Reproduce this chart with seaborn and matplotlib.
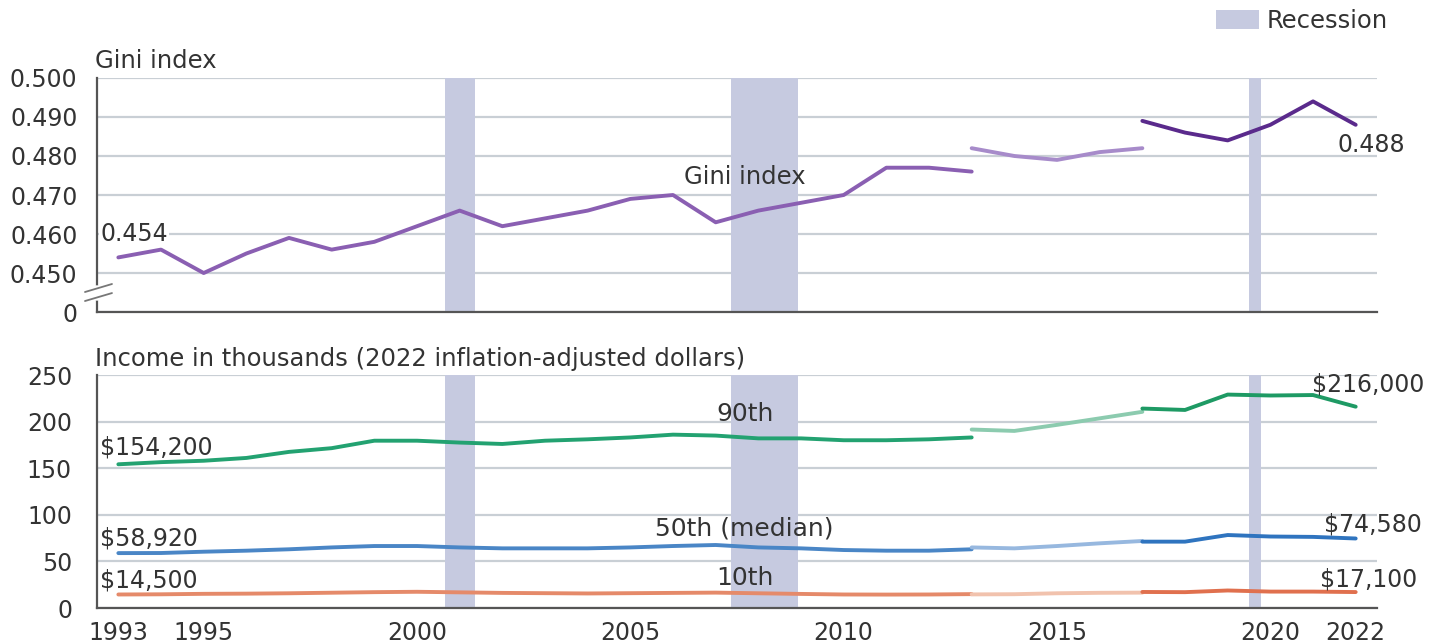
import numpy as np
import pandas as pd
import seaborn as sns
import matplotlib.pyplot as plt
from matplotlib.patches import Patch

# years for the three segments (survey redesigns in 2013 and 2017)
years_a = list(range(1993, 2014))
years_b = list(range(2013, 2018))
years_c = list(range(2017, 2023))

# Gini index
gini_a = [0.454, 0.456, 0.450, 0.455, 0.459, 0.456, 0.458, 0.462, 0.466, 0.462, 0.464,
          0.466, 0.469, 0.470, 0.463, 0.466, 0.468, 0.470, 0.477, 0.477, 0.476]
gini_b = [0.482, 0.480, 0.479, 0.481, 0.482]
gini_c = [0.489, 0.486, 0.484, 0.488, 0.494, 0.488]

# household income percentiles, thousands of 2022 dollars
p90_a = [154.2, 156.5, 158.0, 161.0, 167.5, 171.5, 179.5, 179.5, 177.5, 176.0, 179.5,
         181.0, 183.0, 186.0, 185.0, 182.0, 182.0, 180.0, 180.0, 181.0, 183.0]
p90_b = [191.5, 190.0, 196.5, 203.5, 210.5]
p90_c = [214.0, 212.5, 229.0, 228.0, 228.5, 216.0]

p50_a = [58.9, 59.0, 60.4, 61.5, 63.0, 65.0, 66.5, 66.5, 65.0, 64.0, 64.0,
         64.0, 65.0, 66.5, 67.6, 65.0, 64.0, 62.2, 61.5, 61.5, 63.0]
p50_b = [65.0, 64.0, 66.5, 69.4, 71.9]
p50_c = [71.2, 71.2, 78.3, 76.7, 76.3, 74.58]

p10_a = [14.5, 14.7, 15.2, 15.4, 15.8, 16.4, 17.0, 17.4, 16.8, 16.2, 15.9,
         15.6, 15.9, 16.2, 16.5, 15.8, 15.1, 14.5, 14.4, 14.5, 14.9]
p10_b = [14.6, 14.8, 15.8, 16.3, 16.5]
p10_c = [17.2, 17.0, 18.8, 17.6, 17.6, 17.1]

# recession shading (as drawn on the chart's year axis)
rec_start = [2000.66, 2007.37, 2019.5]
rec_end = [2001.36, 2008.92, 2019.77]

tick_years = list(range(1993, 2023))
label_years = [1993, 1995, 2000, 2005, 2010, 2015, 2020, 2022]

gini_ticks = [0.44, 0.45, 0.46, 0.47, 0.48, 0.49, 0.50]
gini_labels = ['0', '0.450', '0.460', '0.470', '0.480', '0.490', '0.500']
inc_ticks = [0, 50, 100, 150, 200, 250]


def seg_frame(name, segs):
    rows = []
    for tag, yrs, vals in segs:
        for y, v in zip(yrs, vals):
            rows.append({'year': y, 'value': v, 'key': name + '_' + tag})
    return pd.DataFrame(rows)


gini_df = seg_frame('gini', [('a', years_a, gini_a), ('b', years_b, gini_b), ('c', years_c, gini_c)])
inc_df = pd.concat([
    seg_frame('p90', [('a', years_a, p90_a), ('b', years_b, p90_b), ('c', years_c, p90_c)]),
    seg_frame('p50', [('a', years_a, p50_a), ('b', years_b, p50_b), ('c', years_c, p50_c)]),
    seg_frame('p10', [('a', years_a, p10_a), ('b', years_b, p10_b), ('c', years_c, p10_c)]),
])

palette = {
    'gini_a': '#8a5fb2', 'gini_b': '#a78bca', 'gini_c': '#5a2a8c',
    'p90_a': '#23a271', 'p90_b': '#8ccbaf', 'p90_c': '#1e9a64',
    'p50_a': '#4a86c6', 'p50_b': '#97b8df', 'p50_c': '#2f74bf',
    'p10_a': '#e58a6a', 'p10_b': '#f1c2ad', 'p10_c': '#e0704e',
}

sns.set_theme(style='white')
plt.rcParams['font.family'] = ['DejaVu Sans']
text_col = '#333333'
grid_col = '#c9cfd5'
axis_col = '#555555'
band_col = '#c6cae0'

fig = plt.figure(figsize=(14.35, 6.44), dpi=100)
ax1 = fig.add_axes([0.0676, 0.5155, 0.892, 0.3634])
ax2 = fig.add_axes([0.0676, 0.0559, 0.892, 0.3618])

for ax in (ax1, ax2):
    for s, e in zip(rec_start, rec_end):
        ax.axvspan(s, e, color=band_col, lw=0, zorder=1)
    ax.set_xlim(1992.5, 2022.5)
    ax.set_axisbelow(True)
    ax.grid(axis='y', color=grid_col, lw=1.6)
    ax.grid(axis='x', visible=False)
    for side in ('top', 'right'):
        ax.spines[side].set_visible(False)
    for side in ('left', 'bottom'):
        ax.spines[side].set_color(axis_col)
        ax.spines[side].set_linewidth(1.6)
        ax.spines[side].set_zorder(3)
    ax.set_xticks(tick_years)
    ax.tick_params(axis='x', direction='in', length=6, width=1.3, color=axis_col,
                   labelsize=17, labelcolor=text_col, pad=9)
    ax.tick_params(axis='y', length=0, labelsize=17, labelcolor=text_col)
    ax.set_xlabel('')
    ax.set_ylabel('')

# top panel: Gini index
sns.lineplot(data=gini_df, x='year', y='value', hue='key', palette=palette,
             lw=2.8, legend=False, errorbar=None, ax=ax1, zorder=2)
ax1.set_xlim(1992.5, 2022.5)
ax1.set_ylim(0.44, 0.50)
ax1.set_yticks(gini_ticks)
ax1.set_yticklabels(gini_labels)
ax1.tick_params(axis='y', pad=14)
ax1.set_xticklabels([''] * len(tick_years))
ax1.set_xlabel('')
ax1.set_ylabel('')

# axis break marks on the Gini axis
bx = [-0.0094, 0.0117]
ax1.plot([0, 0], [0.0620, 0.1020], transform=ax1.transAxes, color='white', lw=4,
         clip_on=False, zorder=4)
ax1.plot(bx, [0.0855, 0.1197], transform=ax1.transAxes, color='#777777', lw=1.3,
         clip_on=False, zorder=5)
ax1.plot(bx, [0.047, 0.081], transform=ax1.transAxes, color='#777777', lw=1.3,
         clip_on=False, zorder=5)

ax1.text(1992.58, 0.4600, '0.454', fontsize=17, color=text_col, va='center', ha='left',
         bbox=dict(facecolor='white', edgecolor='none', pad=1), zorder=3)
ax1.text(2007.68, 0.4746, 'Gini index', fontsize=17.5, color=text_col, va='center', ha='center')
ax1.text(2021.57, 0.4828, '0.488', fontsize=17, color=text_col, va='center', ha='left',
         clip_on=False)

# bottom panel: income percentiles
sns.lineplot(data=inc_df, x='year', y='value', hue='key', palette=palette,
             lw=2.8, legend=False, errorbar=None, ax=ax2, zorder=2)
ax2.set_xlim(1992.5, 2022.5)
ax2.set_ylim(0, 250)
ax2.set_yticks(inc_ticks)
ax2.tick_params(axis='y', pad=18)
ax2.set_xticklabels([str(y) if y in label_years else '' for y in tick_years])
ax2.set_xlabel('')
ax2.set_ylabel('')

ax2.text(1992.58, 172.7, '$154,200', fontsize=17, color=text_col, va='center', ha='left')
ax2.text(1992.58, 74.6, '$58,920', fontsize=17, color=text_col, va='center', ha='left')
ax2.text(1992.58, 29.5, '$14,500', fontsize=17, color=text_col, va='center', ha='left')
ax2.text(2007.68, 208, '90th', fontsize=18, color=text_col, va='center', ha='center')
ax2.text(2007.68, 85.8, '50th (median)', fontsize=18, color=text_col, va='center', ha='center')
ax2.text(2007.68, 32.7, '10th', fontsize=18, color=text_col, va='center', ha='center')
ax2.text(2023.6, 240.3, '$216,000', fontsize=17, color=text_col, va='center', ha='right', clip_on=False)
ax2.text(2023.55, 90.1, '$74,580', fontsize=17, color=text_col, va='center', ha='right', clip_on=False)
ax2.text(2023.45, 31.1, '$17,100', fontsize=17, color=text_col, va='center', ha='right', clip_on=False)

# panel titles
fig.text(95 / 1435, 1 - 68 / 644, 'Gini index', fontsize=17.5, color=text_col, va='baseline', ha='left')
fig.text(95 / 1435, 1 - 366 / 644, 'Income in thousands (2022 inflation-adjusted dollars)',
         fontsize=17.5, color=text_col, va='baseline', ha='left')

# recession legend
fig.legend(handles=[Patch(facecolor=band_col, edgecolor='none', label='Recession')],
           loc='upper right', bbox_to_anchor=(1400 / 1435, 1.005), frameon=False,
           fontsize=17.5, handlelength=1.8, handleheight=0.8, handletextpad=0.3,
           labelcolor=text_col, borderaxespad=0.1)

fig.savefig('out.png', dpi=100)
